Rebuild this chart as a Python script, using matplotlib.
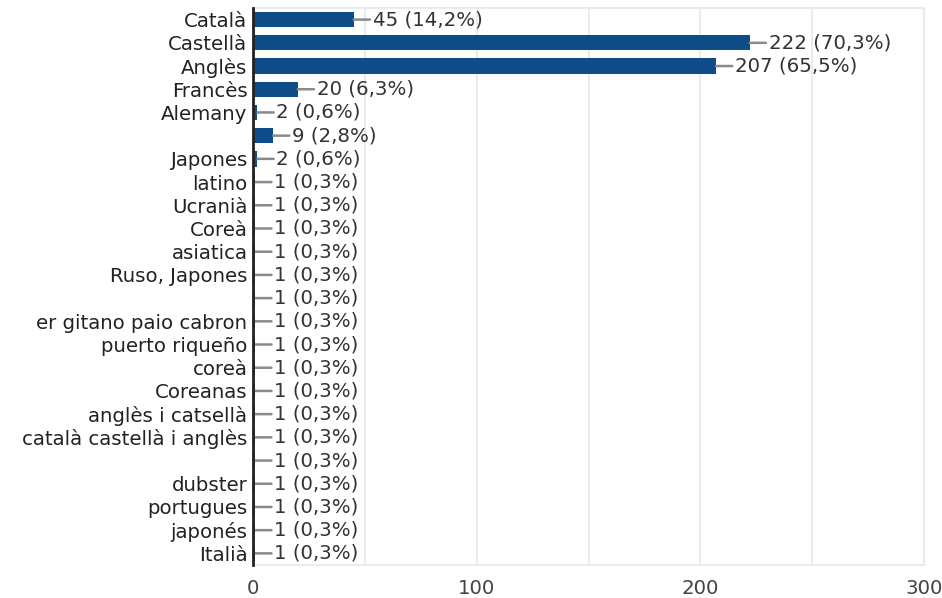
import numpy as np
import matplotlib.pyplot as plt
from matplotlib.ticker import MultipleLocator

plt.rcParams['font.family'] = ['DejaVu Sans']

# answers (top to bottom) and counts
labels = ["Català", "Castellà", "Anglès", "Francès", "Alemany", "", "Japones",
          "latino", "Ucranià", "Coreà", "asiatica", "Ruso, Japones", "",
          "er gitano paio cabron", "puerto riqueño", "coreà", "Coreanas",
          "anglès i catsellà", "català castellà i anglès", "", "dubster",
          "portugues", "japonés", "Italià"]
counts = [45, 222, 207, 20, 2, 9, 2, 1, 1, 1, 1, 1, 1, 1, 1, 1, 1, 1, 1, 1, 1, 1, 1, 1]
pcts = ["14,2%", "70,3%", "65,5%", "6,3%", "0,6%", "2,8%", "0,6%"] + ["0,3%"] * 17
xticks = [0, 100, 200, 300]

bar_color = "#0d4c89"
fs = 14.2

fig = plt.figure(figsize=(9.42, 5.98), dpi=100)
ax = fig.add_axes([0.2686, 0.0552, 0.981 - 0.2686, 0.9866 - 0.0552])

y = np.arange(len(labels))
ax.barh(y, counts, height=0.66, color=bar_color, zorder=3)

# value labels with a short grey connector
for yi, c, p in zip(y, counts, pcts):
    ax.annotate(f"{c} ({p})", xy=(c, yi), xytext=(19, 0), textcoords="offset pixels",
                ha="left", va="center", fontsize=fs, color="#333333", zorder=4,
                arrowprops=dict(arrowstyle="-", color="#8a8a8a", lw=1.8,
                                relpos=(0, 0.5), shrinkA=0, shrinkB=0))

ax.set_xlim(0, 300)
ax.set_ylim(len(labels) - 0.5, -0.5)
ax.set_yticks(y)
ax.set_yticklabels(labels, fontsize=fs, color="#222222")
ax.set_xticks(xticks)
ax.set_xticklabels([str(t) for t in xticks], fontsize=fs, color="#444444")
ax.xaxis.set_minor_locator(MultipleLocator(50))
ax.tick_params(axis="both", which="both", length=0)
ax.tick_params(axis="y", pad=4)
ax.tick_params(axis="x", pad=10)

ax.grid(axis="x", which="both", color="#ebebeb", lw=1.5, zorder=0)
ax.set_axisbelow(True)
for s in ["top", "right", "bottom"]:
    ax.spines[s].set_color("#ebebeb")
    ax.spines[s].set_linewidth(1.5)
ax.spines["left"].set_color("#222222")
ax.spines["left"].set_linewidth(2)
ax.spines["left"].set_zorder(5)

fig.savefig("out.png", dpi=100)
